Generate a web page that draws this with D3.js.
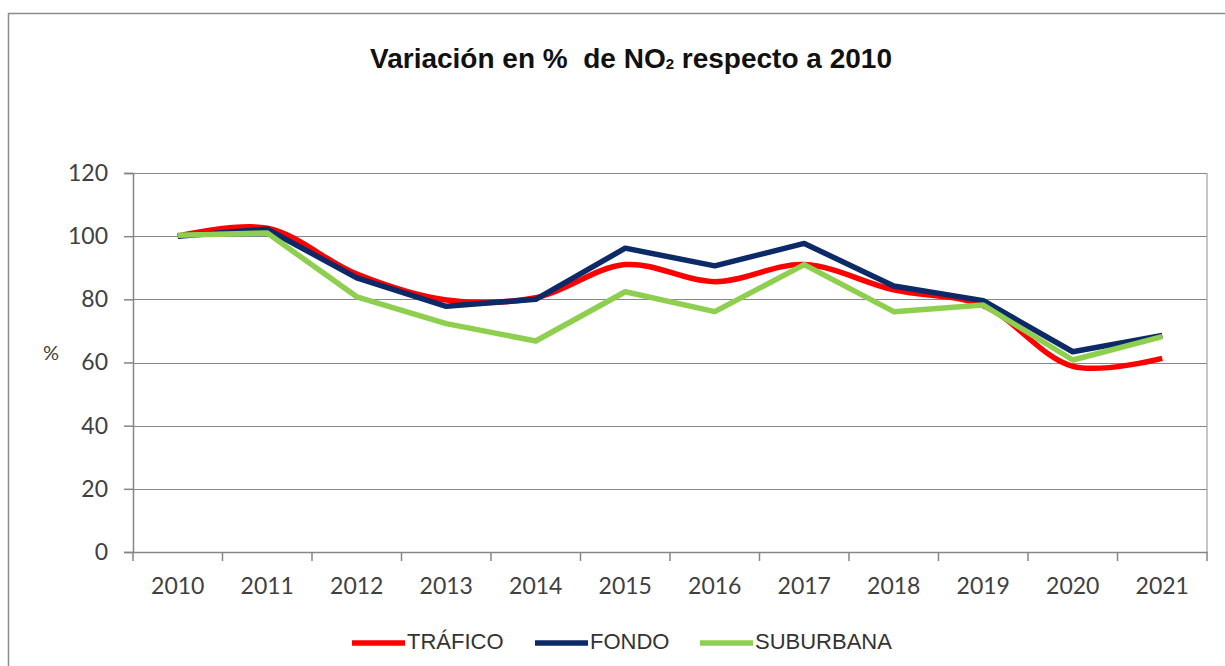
<!DOCTYPE html>
<html>
  <head>
    <meta charset="utf-8">
    <title>Variación en % de NO2 respecto a 2010</title>
    <script src="https://cdn.jsdelivr.net/npm/d3@7"></script>
    <style>
      body { margin: 0; background: #fff; }
      #chart { display: block; }
      .tick text { font-family: Lato, "Open Sans", sans-serif; font-size: 23px; fill: #404040; }
      .legend text { font-family: "Liberation Sans", Arial, sans-serif; font-size: 22px; fill: #333; }
    </style>
  </head>
  <body>
    <svg id="chart" width="1225" height="666"></svg>

    <script>
      // data
      years = ["2010", "2011", "2012", "2013", "2014", "2015", "2016", "2017", "2018", "2019", "2020", "2021"];
      trafico = [100, 102.5, 88, 79.8, 80.5, 91, 85.6, 91, 83, 78, 58.8, 61.3];
      fondo = [100, 102.2, 86.8, 77.8, 80, 96.2, 90.6, 97.7, 84.2, 79.6, 63.4, 68.6];
      suburbana = [100.3, 101, 80.8, 72.3, 66.8, 82.4, 76.1, 91, 76.1, 78.2, 60.8, 68.2];
      yTicks = [0, 20, 40, 60, 80, 100, 120];

      series = [
        { name: "TRÁFICO", values: trafico, color: "#ff0000", curve: d3.curveCatmullRom.alpha(0.5) },
        { name: "FONDO", values: fondo, color: "#0d2a68", curve: d3.curveLinear },
        { name: "SUBURBANA", values: suburbana, color: "#8fcf4f", curve: d3.curveLinear }
      ];

      chart = d3.select("#chart");
      margin = { top: 173, right: 18, bottom: 114, left: 133 };
      width = 1225;
      height = 666;

      // frame
      chart.append("path")
        .attr("d", "M8.5,666 V13.5 H1225")
        .attr("fill", "none")
        .attr("stroke", "#8c8c8c")
        .attr("stroke-width", 1.5);

      // title
      title = chart.append("text")
        .attr("x", 631)
        .attr("y", 68)
        .attr("text-anchor", "middle")
        .style("white-space", "pre")
        .style("font-family", "'Liberation Sans', Arial, sans-serif")
        .style("font-weight", "bold")
        .style("font-size", "28px")
        .style("fill", "#111");
      title.append("tspan").text("Variación en %  de NO");
      title.append("tspan").text("2").style("font-size", "15px").attr("dy", 1);
      title.append("tspan").text(" respecto a 2010").attr("dy", -1);

      x = d3.scaleBand()
        .domain(years)
        .range([margin.left, width - margin.right]);

      y = d3.scaleLinear()
        .domain([0, 120])
        .range([height - margin.bottom, margin.top]);

      // gridlines
      chart.append("g")
        .selectAll("line")
        .data(yTicks.filter(d => d > 0))
        .join("line")
          .attr("x1", margin.left)
          .attr("x2", width - margin.right)
          .attr("y1", d => Math.round(y(d)) + 0.5)
          .attr("y2", d => Math.round(y(d)) + 0.5)
          .attr("stroke", "#868686")
          .attr("stroke-width", 1.2);

      // plot area right edge
      chart.append("line")
        .attr("x1", width - margin.right)
        .attr("x2", width - margin.right)
        .attr("y1", y(120))
        .attr("y2", y(0))
        .attr("stroke", "#a0a0a0")
        .attr("stroke-width", 1.2);

      // y axis
      yAxis = chart.append("g")
        .attr("transform", "translate(" + margin.left + ",0)")
        .call(d3.axisLeft(y).tickValues(yTicks).tickSize(9).tickPadding(16));
      yAxis.selectAll("line, path").attr("stroke", "#868686").attr("stroke-width", 1.5);

      // x axis
      xAxis = chart.append("g")
        .attr("transform", "translate(0," + y(0) + ")")
        .call(d3.axisBottom(x).tickSize(0).tickPadding(26));
      xAxis.select(".domain").attr("stroke", "#868686").attr("stroke-width", 1.5);
      xAxis.selectAll(".tick line").remove();
      xAxis.append("g")
        .selectAll("line")
        .data(years.map(d => x(d)).concat([x.range()[1]]))
        .join("line")
          .attr("x1", d => d)
          .attr("x2", d => d)
          .attr("y1", 0)
          .attr("y2", 9)
          .attr("stroke", "#868686")
          .attr("stroke-width", 1.5);

      // y label
      chart.append("text")
        .attr("x", 51)
        .attr("y", 360)
        .attr("text-anchor", "middle")
        .style("font-family", "Lato, sans-serif")
        .style("font-size", "20px")
        .style("fill", "#404040")
        .text("%");

      // lines
      chart.append("g")
        .selectAll("path")
        .data(series)
        .join("path")
          .attr("d", d => d3.line()
            .x((v, i) => x(years[i]) + x.bandwidth() / 2)
            .y(v => y(v))
            .curve(d.curve)(d.values))
          .attr("fill", "none")
          .attr("stroke", d => d.color)
          .attr("stroke-width", 5.5)
          .attr("stroke-linejoin", "round");

      // legend
      legendX = [352, 535, 700];
      legend = chart.append("g")
        .attr("class", "legend")
        .selectAll("g")
        .data(series)
        .join("g")
          .attr("transform", (d, i) => "translate(" + legendX[i] + ",643)");
      legend.append("line")
        .attr("x1", 0)
        .attr("x2", 53)
        .attr("stroke", d => d.color)
        .attr("stroke-width", 5.5);
      legend.append("text")
        .attr("x", 55)
        .attr("y", 6)
        .text(d => d.name);
    </script>
  </body>
</html>
